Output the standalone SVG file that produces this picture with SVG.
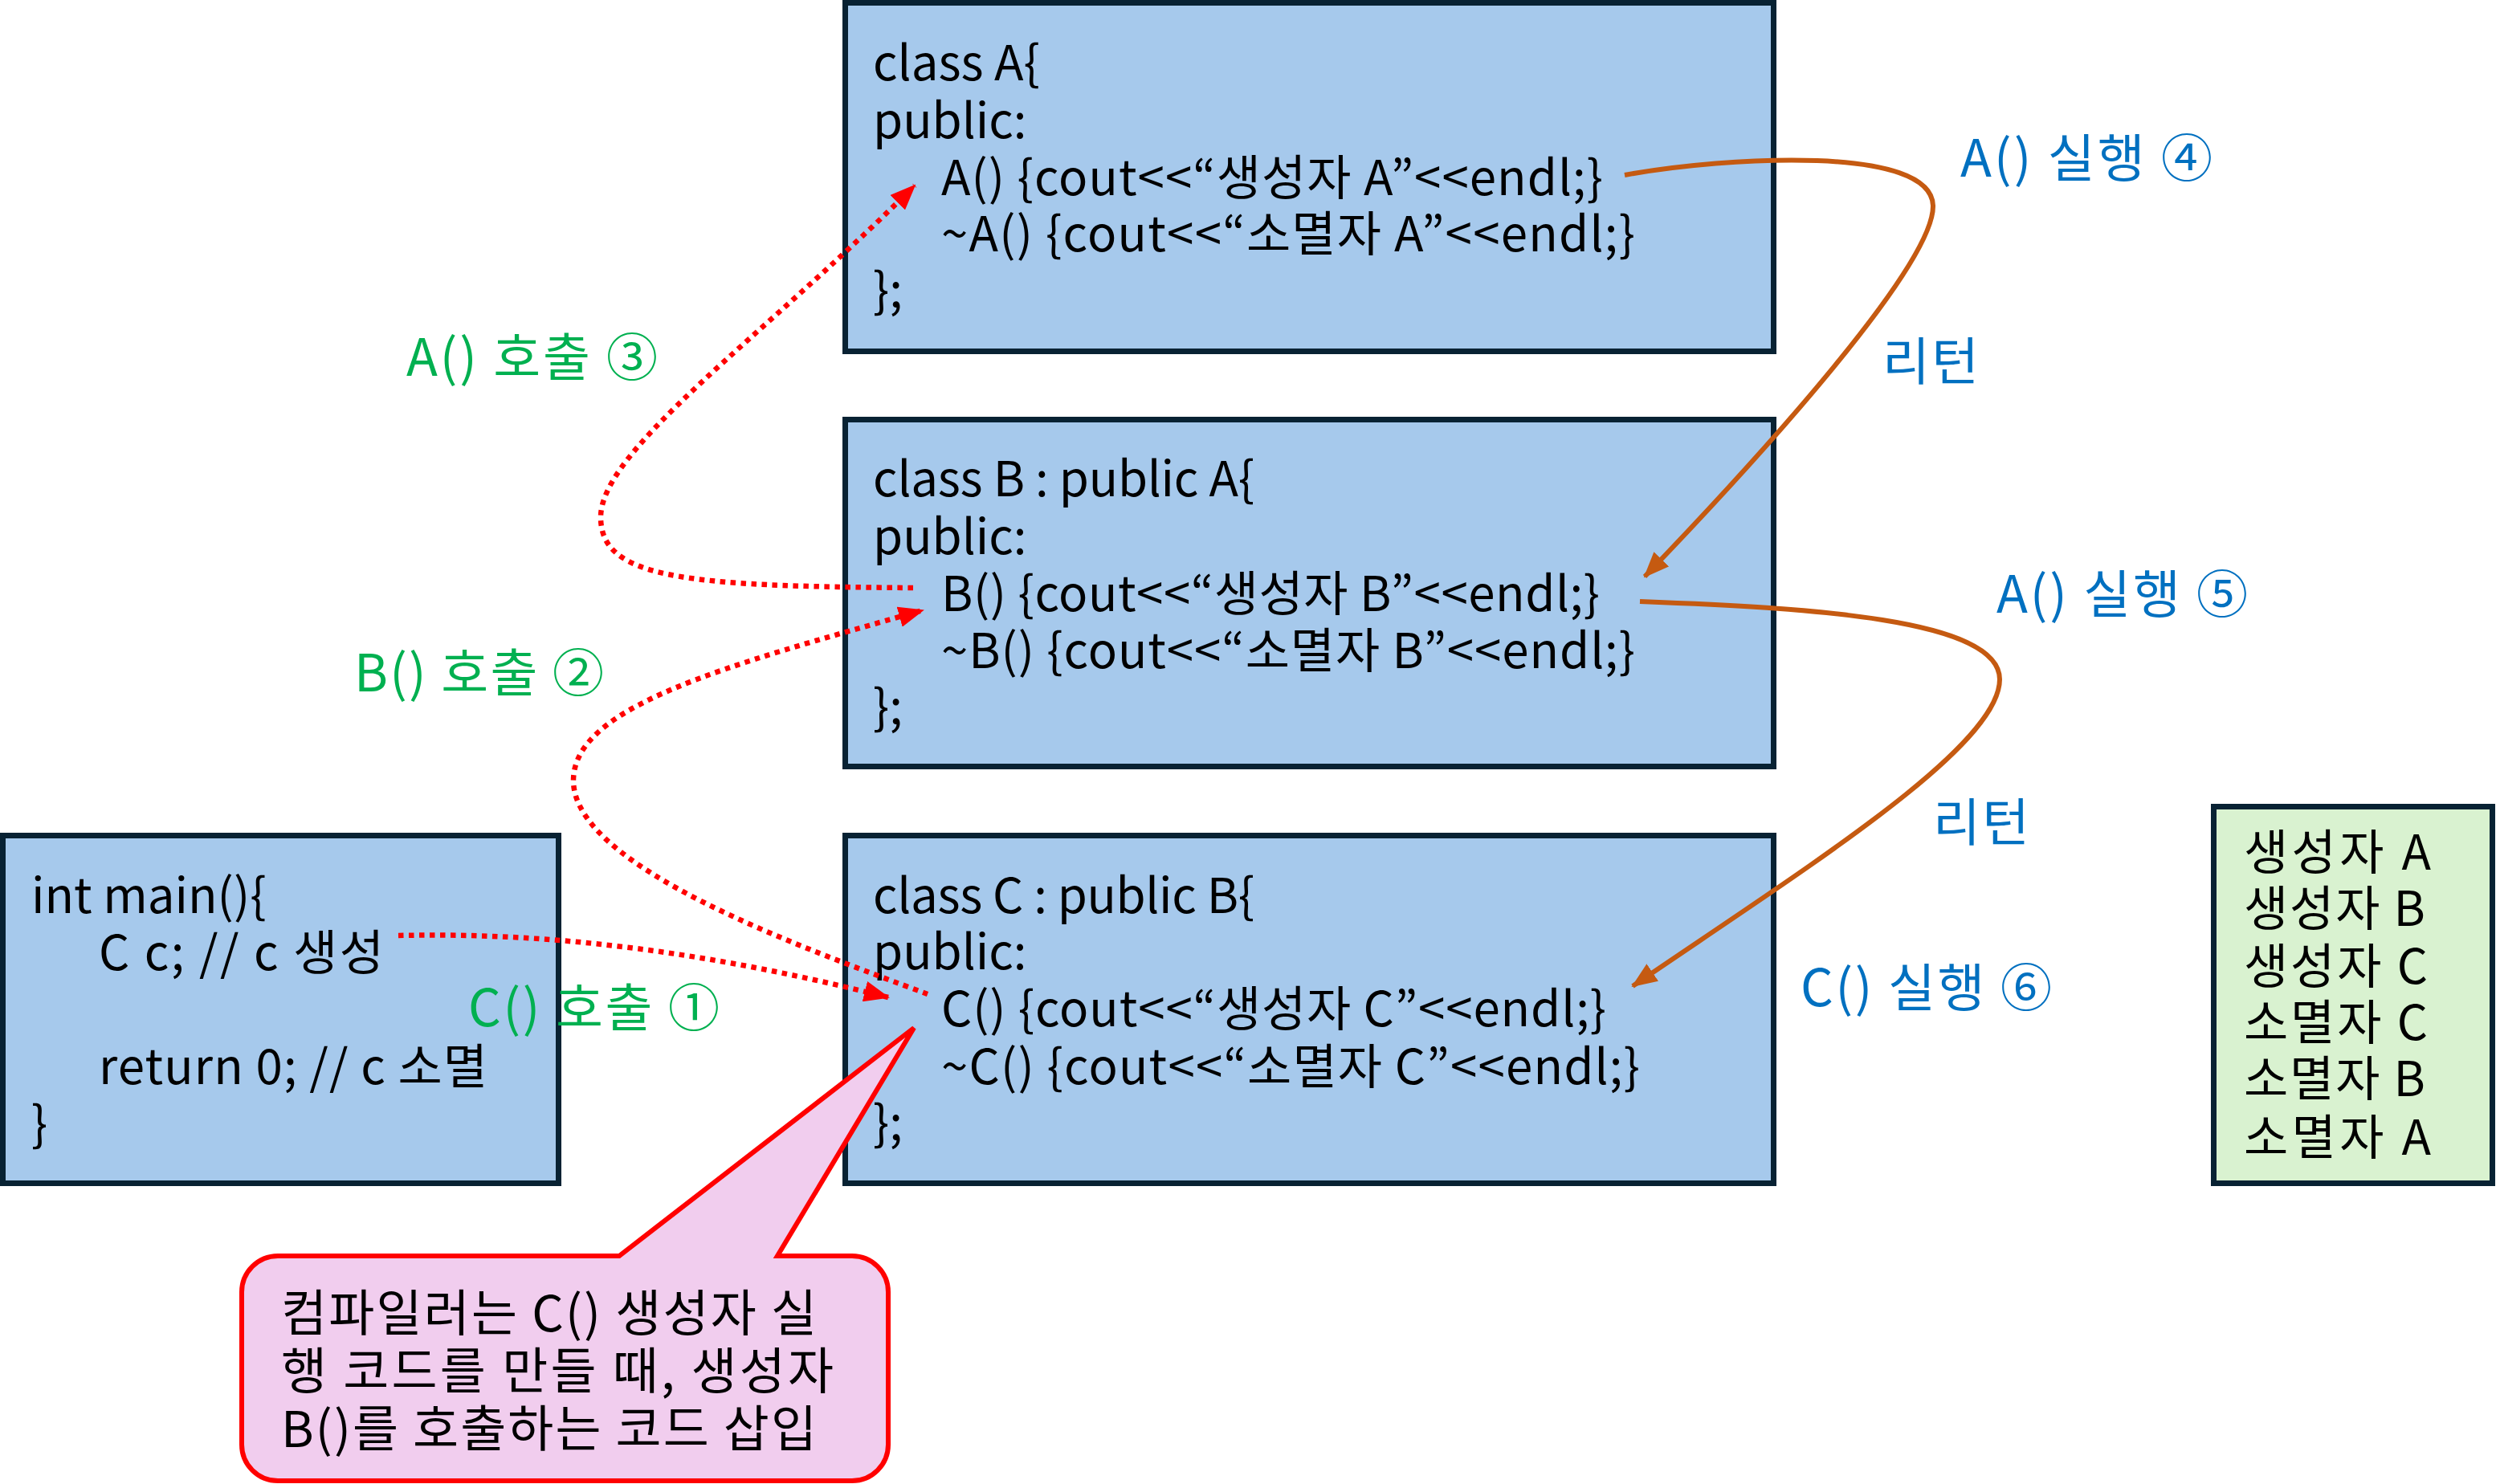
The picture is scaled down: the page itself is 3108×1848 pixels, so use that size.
<svg xmlns="http://www.w3.org/2000/svg" width="3108" height="1848" viewBox="0 0 3108 1848">
<style>
.box{fill:#a6c9ec;stroke:#082233;stroke-width:7}
.gbox{fill:#d9f2d0;stroke:#082233;stroke-width:7}
.code{font-family:"Noto Sans CJK KR","Noto Sans",sans-serif;font-size:60px;fill:#000}
.co{font-family:"Noto Sans CJK KR","Noto Sans",sans-serif;font-size:62px;fill:#000}
.lg{font-family:"Noto Sans CJK KR","Noto Sans",sans-serif;font-size:64px;fill:#00b050}
.lb{font-family:"Noto Sans CJK KR","Noto Sans",sans-serif;font-size:64px;fill:#0070c0}
.dot{fill:none;stroke:#ff0000;stroke-width:6.5;stroke-dasharray:6.5 6.5}
.ret{fill:none;stroke:#c55a11;stroke-width:6}
</style>
<defs>
<marker id="ar" markerUnits="userSpaceOnUse" markerWidth="32" markerHeight="26" viewBox="0 0 32 26" refX="30" refY="13" orient="auto"><path d="M0,0 L32,13 L0,26 Z" fill="#ff0000"/></marker>
<marker id="ao" markerUnits="userSpaceOnUse" markerWidth="32" markerHeight="26" viewBox="0 0 32 26" refX="30" refY="13" orient="auto"><path d="M0,0 L32,13 L0,26 Z" fill="#c55a11"/></marker>
</defs>
<g id="classA">
<rect class="box" x="1052.5" y="3.5" width="1156" height="434"/>
<text class="code" x="1087" y="100">class A{</text>
<text class="code" x="1087" y="172">public:</text>
<text class="code" x="1172" y="243" textLength="824" lengthAdjust="spacing">A() {cout&lt;&lt;“생성자 A”&lt;&lt;endl;}</text>
<text class="code" x="1172" y="313" textLength="864" lengthAdjust="spacing">~A() {cout&lt;&lt;“소멸자 A”&lt;&lt;endl;}</text>
<text class="code" x="1087" y="383">};</text>
</g>
<g id="classB">
<rect class="box" x="1052.5" y="522.5" width="1156" height="432"/>
<text class="code" x="1087" y="618" textLength="475" lengthAdjust="spacing">class B : public A{</text>
<text class="code" x="1087" y="690">public:</text>
<text class="code" x="1172" y="761" textLength="820" lengthAdjust="spacing">B() {cout&lt;&lt;“생성자 B”&lt;&lt;endl;}</text>
<text class="code" x="1172" y="832" textLength="864" lengthAdjust="spacing">~B() {cout&lt;&lt;“소멸자 B”&lt;&lt;endl;}</text>
<text class="code" x="1087" y="902">};</text>
</g>
<g id="classC">
<rect class="box" x="1052.5" y="1040.5" width="1156" height="433"/>
<text class="code" x="1087" y="1137" textLength="475" lengthAdjust="spacing">class C : public B{</text>
<text class="code" x="1087" y="1207">public:</text>
<text class="code" x="1172" y="1278" textLength="828" lengthAdjust="spacing">C() {cout&lt;&lt;“생성자 C”&lt;&lt;endl;}</text>
<text class="code" x="1172" y="1350" textLength="870" lengthAdjust="spacing">~C() {cout&lt;&lt;“소멸자 C”&lt;&lt;endl;}</text>
<text class="code" x="1087" y="1420">};</text>
</g>
<g id="main">
<rect class="box" x="3.5" y="1040.5" width="692" height="433"/>
<text class="code" x="39" y="1137">int main(){</text>
<text class="code" x="123" y="1208" textLength="355" lengthAdjust="spacing">C c; // c 생성</text>
<text class="code" x="123" y="1350" textLength="484" lengthAdjust="spacing">return 0; // c 소멸</text>
<text class="code" x="39" y="1421">}</text>
</g>
<g id="output">
<rect class="gbox" x="2756.5" y="1004.5" width="347" height="469"/>
<text class="code" x="2794" y="1083" textLength="233" lengthAdjust="spacing">생성자 A</text>
<text class="code" x="2794" y="1153" textLength="226" lengthAdjust="spacing">생성자 B</text>
<text class="code" x="2794" y="1225" textLength="229" lengthAdjust="spacing">생성자 C</text>
<text class="code" x="2794" y="1295" textLength="229" lengthAdjust="spacing">소멸자 C</text>
<text class="code" x="2794" y="1365" textLength="226" lengthAdjust="spacing">소멸자 B</text>
<text class="code" x="2794" y="1438" textLength="233" lengthAdjust="spacing">소멸자 A</text>
</g>
<g id="callout">
<path d="M346,1564 H771 L1138,1280 L968,1564 H1061 A45,45 0 0 1 1106,1609 V1799 A45,45 0 0 1 1061,1844 H346 A45,45 0 0 1 301,1799 V1609 A45,45 0 0 1 346,1564 Z" fill="#f1cdee" stroke="#ff0000" stroke-width="6"/>
<text class="co" x="350" y="1658" textLength="667" lengthAdjust="spacing">컴파일러는 C() 생성자 실</text>
<text class="co" x="350" y="1730" textLength="688" lengthAdjust="spacing">행 코드를 만들 때, 생성자</text>
<text class="co" x="350" y="1802" textLength="667" lengthAdjust="spacing">B()를 호출하는 코드 삽입</text>
</g>
<g id="connectors">
<path class="dot" d="M496,1165 C700,1160 900,1190 1106,1242" marker-end="url(#ar)"/>
<path class="dot" d="M1155,1238 C1000,1180 714,1080 714,972 C714,880 900,830 1149,760" marker-end="url(#ar)"/>
<path class="dot" d="M1137,732 C850,730 748,720 748,644 C748,560 950,420 1139,231" marker-end="url(#ar)"/>
<path class="ret" d="M2023,218 C2150,195 2407,180 2407,257 C2407,330 2200,560 2048,718" marker-end="url(#ao)"/>
<path class="ret" d="M2042,749 C2250,757 2490,770 2490,846 C2490,930 2250,1080 2033,1228" marker-end="url(#ao)"/>
</g>
<g id="labels">
<text class="lg" x="583" y="1278" textLength="313" lengthAdjust="spacing">C() 호출 ①</text>
<text class="lg" x="441" y="861" textLength="311" lengthAdjust="spacing">B() 호출 ②</text>
<text class="lg" x="506" y="468" textLength="313" lengthAdjust="spacing">A() 호출 ③</text>
<text class="lb" x="2441" y="220" textLength="314" lengthAdjust="spacing">A() 실행 ④</text>
<text class="lb" x="2344" y="473" textLength="120" lengthAdjust="spacing">리턴</text>
<text class="lb" x="2486" y="763" textLength="313" lengthAdjust="spacing">A() 실행 ⑤</text>
<text class="lb" x="2407" y="1047" textLength="120" lengthAdjust="spacing">리턴</text>
<text class="lb" x="2242" y="1253" textLength="313" lengthAdjust="spacing">C() 실행 ⑥</text>
</g>
</svg>
